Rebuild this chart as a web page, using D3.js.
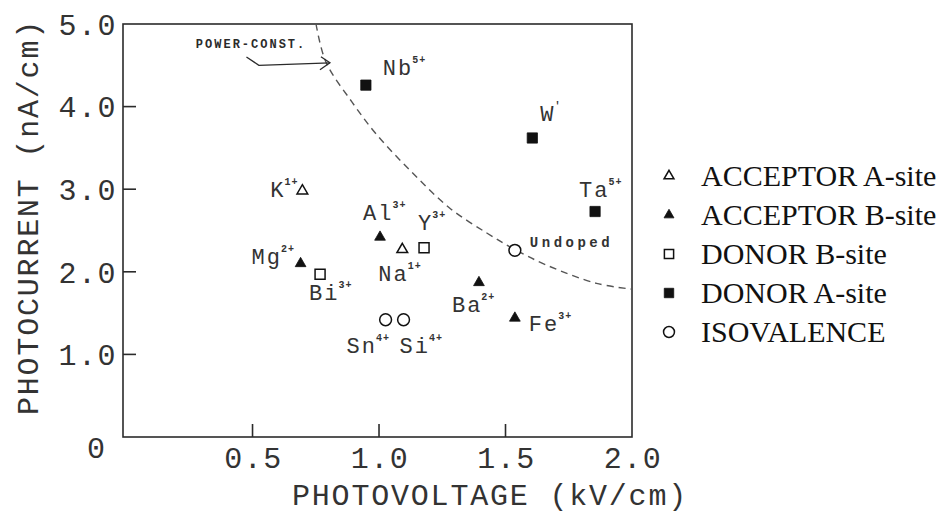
<!DOCTYPE html>
<html>
<head>
<meta charset="utf-8">
<script src="https://cdn.jsdelivr.net/npm/d3@7"></script>
<style>
  html, body { margin: 0; padding: 0; background: #fff; }
  svg { display: block; }
</style>
</head>
<body>
<svg id="chart" width="945" height="515"></svg>
<script>
// ---- data ----
const categories = ["ACCEPTOR A-site", "ACCEPTOR B-site", "DONOR B-site", "DONOR A-site", "ISOVALENCE"];
const dopants = ["K", "Na", "Mg", "Al", "Ba", "Fe", "Bi", "Y", "Nb", "W", "Ta", "Sn", "Si", "Undoped"];
const charges = ["1+", "1+", "2+", "3+", "2+", "3+", "3+", "3+", "5+", "'", "5+", "4+", "4+", ""];
const dopantCategory = [0, 0, 1, 1, 1, 1, 2, 2, 3, 3, 3, 4, 4, 4];
const photovoltage = [0.697, 1.092, 0.690, 1.004, 1.395, 1.537, 0.767, 1.178, 0.948, 1.606, 1.854, 1.026, 1.097, 1.537];
const photocurrent = [2.98, 2.27, 2.10, 2.42, 1.87, 1.44, 1.97, 2.29, 4.26, 3.62, 2.73, 1.42, 1.42, 2.26];
const powerConstV = [0.751, 0.79, 0.892, 0.991, 1.135, 1.28, 1.426, 1.531, 1.663, 1.86, 2.0];
const powerConstI = [5.0, 4.54, 4.06, 3.66, 3.19, 2.77, 2.47, 2.28, 2.08, 1.86, 1.79];
const xTickValues = [0.5, 1.0, 1.5, 2.0];
const xTickLabels = ["0.5", "1.0", "1.5", "2.0"];
const yTickValues = [1, 2, 3, 4, 5];
const yTickLabels = ["1.0", "2.0", "3.0", "4.0", "5.0"];
const originLabel = "0";
const xTitle = "PHOTOVOLTAGE (kV/cm)";
const yTitle = "PHOTOCURRENT (nA/cm)";
const curveLabel = "POWER-CONST.";

// ---- layout / style ----
const svg = d3.select("#chart");
const ink = "#333";
const mono = "'Liberation Mono', 'DejaVu Sans Mono', monospace";
const x = d3.scaleLinear().domain([-0.012, 2.0]).range([123, 632]);
const y = d3.scaleLinear().domain([0, 5]).range([437, 24]);

// symbol shapes by category
const shapeOf = [
  { type: d3.symbolTriangle, size: 50, fill: false },
  { type: d3.symbolTriangle, size: 50, fill: true },
  { type: d3.symbolSquare, size: 100, fill: false },
  { type: d3.symbolSquare, size: 105, fill: true },
  { type: d3.symbolCircle, size: 110, fill: false }
];

// frame
svg.append("rect")
  .attr("x", x(-0.012)).attr("y", y(5))
  .attr("width", x(2.0) - x(-0.012)).attr("height", y(0) - y(5))
  .attr("fill", "none").attr("stroke", "#2b2b2b").attr("stroke-width", 1.6);

// ticks (inward)
const tickLen = 13;
svg.append("g").selectAll("line").data(xTickValues.filter(v => v < 2.0)).join("line")
  .attr("x1", d => x(d)).attr("x2", d => x(d))
  .attr("y1", y(0)).attr("y2", y(0) - tickLen)
  .attr("stroke", "#2b2b2b").attr("stroke-width", 1.6);
svg.append("g").selectAll("line").data(yTickValues.filter(v => v < 5)).join("line")
  .attr("x1", x(-0.012)).attr("x2", x(-0.012) + tickLen)
  .attr("y1", d => y(d)).attr("y2", d => y(d))
  .attr("stroke", "#2b2b2b").attr("stroke-width", 1.6);

// tick labels
svg.append("g").selectAll("text").data(xTickValues).join("text")
  .attr("x", d => x(d) + 1).attr("y", y(0) + 31)
  .attr("text-anchor", "middle")
  .style("font-family", mono).style("font-size", "30px").style("letter-spacing", "1.5px")
  .attr("fill", ink)
  .text((d, i) => xTickLabels[i]);
svg.append("g").selectAll("text").data(yTickValues).join("text")
  .attr("x", 117).attr("y", d => y(d))
  .attr("dy", "0.36em")
  .attr("text-anchor", "end")
  .style("font-family", mono).style("font-size", "30px").style("letter-spacing", "1.5px")
  .attr("fill", ink)
  .text((d, i) => yTickLabels[i]);
svg.append("text")
  .attr("x", 105).attr("y", y(0) + 10).attr("dy", "0.36em")
  .attr("text-anchor", "end")
  .style("font-family", mono).style("font-size", "30px")
  .attr("fill", ink).text(originLabel);

// axis titles
svg.append("text")
  .attr("x", 490).attr("y", 505)
  .attr("text-anchor", "middle")
  .style("font-family", mono).style("font-size", "30px").style("letter-spacing", "1.8px")
  .attr("fill", ink).text(xTitle);
svg.append("text")
  .attr("transform", "translate(27,217) rotate(-90)")
  .attr("text-anchor", "middle").attr("dy", "0.36em")
  .style("font-family", mono).style("font-size", "30px").style("letter-spacing", "1.8px")
  .attr("fill", ink).text(yTitle);

// power-constant curve
const curvePts = powerConstV.map((v, i) => [v, powerConstI[i]]);
svg.append("path")
  .attr("d", d3.line().x(d => x(d[0])).y(d => y(d[1])).curve(d3.curveCatmullRom)(curvePts))
  .attr("fill", "none").attr("stroke", "#555").attr("stroke-width", 1.4)
  .attr("stroke-dasharray", "7,5");

// curve annotation label + arrow (positions in data units)
svg.append("text")
  .attr("x", x(0.276)).attr("y", y(4.71))
  .style("font-family", mono).style("font-size", "12px").style("font-weight", "bold")
  .style("letter-spacing", "2px")
  .attr("fill", "#2b2b2b").text(curveLabel);
const arrowPts = [[0.476, 4.60], [0.525, 4.50], [0.806, 4.53]];
svg.append("path")
  .attr("d", d3.line().x(d => x(d[0])).y(d => y(d[1]))(arrowPts))
  .attr("fill", "none").attr("stroke", "#2b2b2b").attr("stroke-width", 1.3);
const tip = [x(0.806), y(4.53)];
svg.append("path")
  .attr("d", `M${tip[0] - 9},${tip[1] - 6} L${tip[0]},${tip[1]} L${tip[0] - 10},${tip[1] + 7}`)
  .attr("fill", "none").attr("stroke", "#2b2b2b").attr("stroke-width", 1.3);

// points
const pts = dopants.map((d, i) => ({
  name: d, charge: charges[i], cat: dopantCategory[i],
  v: photovoltage[i], c: photocurrent[i]
}));
svg.append("g").selectAll("path").data(pts).join("path")
  .attr("transform", d => `translate(${x(d.v)},${y(d.c)})`)
  .attr("d", d => d3.symbol().type(shapeOf[d.cat].type).size(shapeOf[d.cat].size)())
  .attr("fill", d => shapeOf[d.cat].fill ? "#111" : "#fff")
  .attr("stroke", "#111")
  .attr("stroke-width", d => shapeOf[d.cat].fill ? 0.8 : 1.5);

// point labels: offsets (px) from each marker
const labelOffset = {
  K: [-32, 6], Na: [-24, 32], Mg: [-49, 0], Al: [-17, -17], Ba: [-27, 29],
  Fe: [14, 13], Bi: [-11, 26], Y: [-6, -18], Nb: [17, -10], W: [8, -17],
  Ta: [-16, -15], Sn: [-39, 33], Si: [-4, 33], Undoped: [15, -3]
};
const lab = svg.append("g").selectAll("text").data(pts).join("text")
  .attr("x", d => x(d.v) + labelOffset[d.name][0])
  .attr("y", d => y(d.c) + labelOffset[d.name][1])
  .style("font-family", mono)
  .style("font-size", d => d.name === "Undoped" ? "14px" : "22px")
  .style("letter-spacing", d => d.name === "Undoped" ? "3.5px" : "2px")
  .style("font-weight", d => d.name === "Undoped" ? "bold" : "normal")
  .attr("fill", ink);
lab.append("tspan").text(d => d.name);
lab.filter(d => d.charge !== "").append("tspan")
  .attr("dy", -12).attr("dx", -1)
  .style("font-size", "10px").style("font-weight", "bold").style("letter-spacing", "1px")
  .text(d => d.charge);

// legend
const legend = svg.append("g");
const legendRows = legend.selectAll("g").data(categories).join("g")
  .attr("transform", (d, i) => `translate(669,${176 + i * 39})`);
legendRows.append("path")
  .attr("d", (d, i) => d3.symbol().type(shapeOf[i].type).size(shapeOf[i].size * 0.85)())
  .attr("fill", (d, i) => shapeOf[i].fill ? "#111" : "#fff")
  .attr("stroke", "#111")
  .attr("stroke-width", (d, i) => shapeOf[i].fill ? 0.8 : 1.5);
legendRows.append("text")
  .attr("x", 32).attr("dy", "0.34em")
  .style("font-family", "'Liberation Serif', 'Times New Roman', serif")
  .style("font-size", "30px")
  .attr("fill", "#111")
  .text(d => d);
</script>
</body>
</html>
